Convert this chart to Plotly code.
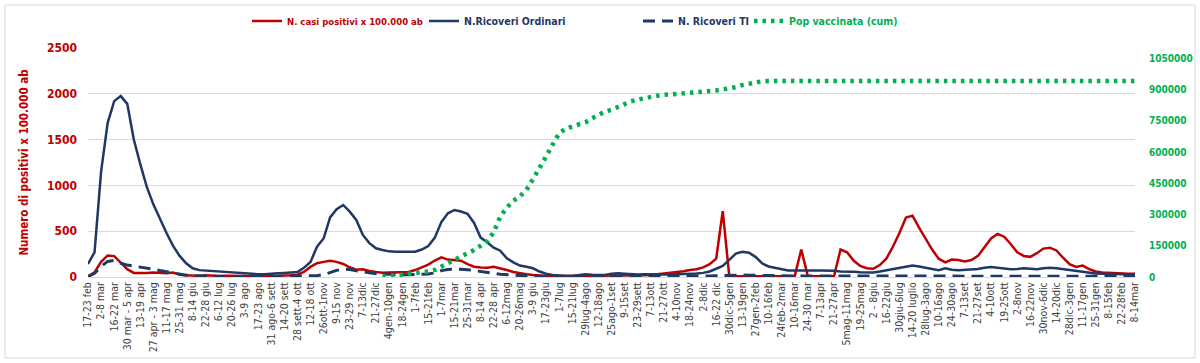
import plotly.graph_objects as go

# ---------------- data ----------------
tick_labels = [
    "17-23 feb", "2-8 mar", "16-22 mar", "30 mar - 5 apr", "13-19 apr", "27 apr - 3 mag",
    "11-17 mag", "25-31 mag", "8-14 giu", "22-28 giu", "6-12 lug", "20-26 lug", "3-9 ago",
    "17-23 ago", "31 ago-6 sett", "14-20 sett", "28 sett-4 ott", "12-18 ott", "26ott-1nov",
    "9-15 nov", "23-29 nov", "7-13dic", "21-27dic", "4gen-10gen", "18-24gen", "1-7feb",
    "15-21feb", "1-7mar", "15-21mar", "25-31mar", "8-14 apr", "22-28 apr", "6-12mag",
    "20-26mag", "3-9 giu", "17-23giu", "1-7lug", "15-21lug", "29lug-4ago", "12-18ago",
    "25ago-1set", "9-15set", "23-29sett", "7-13ott", "21-27ott", "4-10nov", "18-24nov",
    "2-8dic", "16-22 dic", "30dic-5gen", "13-19gen", "27gen-2feb", "10-16feb", "24feb-2mar",
    "10-16mar", "24-30 mar", "7-13apr", "21-27apr", "5mag-11mag", "19-25mag", "2 - 8giu",
    "16-22giu", "30giu-6lug", "14-20 luglio", "28lug-3ago", "10-16ago", "24-30ago", "7-13set",
    "21-27set", "4-10ott", "19-25ott", "2-8nov", "16-22nov", "30nov-6dic", "14-20dic",
    "28dic-3gen", "11-17gen", "25-31gen", "8-15feb", "22-28feb", "8-14mar",
]

# weekly values (161 weeks, one label every two weeks)
casi_positivi = [
    5, 50, 165, 235, 228, 155, 85, 45, 42, 45,
    48, 45, 40, 48, 25, 20, 15, 12, 18, 14,
    12, 15, 12, 10, 12, 10, 12, 10, 12, 15,
    15, 20, 25, 55, 110, 150, 165, 178, 165, 142,
    106, 80, 84, 65, 55, 47, 50, 52, 51, 55,
    76, 105, 135, 180, 215, 190, 182, 178, 140, 112,
    105, 100, 112, 90, 76, 55, 40, 30, 22, 15,
    11, 10, 10, 12, 14, 15, 14, 12, 12, 14,
    12, 12, 14, 12, 14, 18, 22, 30, 38, 45,
    51, 62, 76, 85, 105, 140, 200, 720, 10, 8,
    8, 8, 9, 8, 8, 9, 8, 8, 10, 300,
    10, 8, 8, 9, 8, 300, 270, 180, 120, 95,
    90, 130, 200, 330, 480, 650, 670, 540, 420, 300,
    200, 160, 190, 185, 170, 185, 230, 320, 420, 470,
    440, 360, 270, 230, 220, 260, 310, 320, 290, 210,
    140, 110, 125, 85, 60, 50, 45, 40, 38, 35,
    35,
]

ricoveri_ordinari = [
    142, 270, 1150, 1680, 1920, 1975, 1890, 1500, 1230, 980,
    790, 630, 480, 340, 230, 150, 95, 75, 70, 62,
    55, 48, 42, 38, 35, 32, 30, 30, 32, 40,
    45, 48, 55, 100, 165, 330, 420, 650, 740, 786,
    713, 622, 459, 370, 313, 295, 280, 276, 278, 276,
    276, 300, 338, 430, 600, 695, 732, 715, 690, 590,
    430, 380, 320, 287, 204, 160, 125, 112, 95, 60,
    35, 22, 15, 12, 11, 20, 30, 25, 20, 22,
    35, 40, 35, 30, 28, 30, 32, 30, 28, 28,
    30, 30, 32, 38, 45, 60, 90, 120, 186, 255,
    276, 265, 220, 150, 115, 100, 80, 72, 70, 72,
    75, 72, 70, 70, 68, 60, 62, 58, 52, 48,
    50, 60, 72, 85, 95, 110, 125, 115, 100, 85,
    75, 95, 80, 75, 78, 82, 88, 100, 108, 100,
    90, 85, 88, 95, 90, 85, 95, 100, 95, 85,
    75, 62, 50, 42, 38, 35, 32, 30, 28, 27,
    26,
]

ricoveri_ti = [
    5, 40, 115, 170, 180, 150, 130, 120, 110, 95,
    85, 70, 58, 45, 30, 20, 15, 12, 10, 8,
    7, 6, 6, 5, 5, 5, 5, 5, 6, 6,
    7, 7, 8, 8, 10, 15, 25, 50, 72, 87,
    82, 68, 55, 42, 35, 32, 28, 26, 25, 25,
    25, 27, 32, 45, 70, 83, 87, 85, 80, 68,
    60, 50, 40, 30, 24, 18, 14, 10, 8, 7,
    6, 6, 6, 6, 6, 6, 6, 6, 6, 6,
    6, 7, 7, 7, 7, 7, 7, 7, 7, 7,
    7, 7, 7, 8, 10, 12, 15, 18, 20, 22,
    22, 20, 18, 15, 12, 11, 10, 10, 10, 10,
    10, 10, 10, 10, 10, 10, 10, 10, 10, 10,
    10, 10, 10, 11, 12, 12, 13, 12, 11, 10,
    10, 10, 10, 10, 10, 10, 10, 11, 11, 11,
    11, 10, 10, 10, 10, 10, 10, 10, 10, 10,
    10, 9, 9, 9, 9, 9, 9, 9, 9, 9,
    9,
]

pop_vaccinata = [None] * 45 + [
    2000, 4000, 6000, 11000, 16000,
    19000, 19000, 26000, 34000, 50000, 68000, 82000, 94000, 115000, 130000,
    150000, 172000, 215000, 290000, 333000, 366000, 388000, 418000, 470000, 520000,
    578000, 636000, 690000, 713000, 723000, 731000, 743000, 762000, 780000, 795000,
    803000, 818000, 833000, 844000, 852000, 860000, 866000, 871000, 875000, 876000,
    878000, 882000, 885000, 887000, 889000, 891000, 896000, 901000, 906000, 912000,
    922000, 928000, 935000, 940000, 941000, 941000, 941000, 942000, 942000, 942000,
    942000, 942000, 942000, 942000, 942000, 942000, 942000, 942000, 942000, 942000,
    942000, 942000, 942000, 942000, 942000, 942000, 942000, 942000, 942000, 942000,
    942000, 942000, 942000, 942000, 942000, 942000, 942000, 942000, 942000, 942000,
    942000, 942000, 942000, 942000, 942000, 942000, 942000, 942000, 942000, 942000,
    942000, 942000, 942000, 942000, 942000, 942000, 942000, 942000, 942000, 942000,
    942000,
]

weeks = list(range(len(casi_positivi)))

# ---------------- style ----------------
RED = "#C00000"
NAVY = "#1F3864"
GREEN = "#00B050"
GRID = "#D9D9D9"
FONT = "Liberation Sans Narrow, DejaVu Sans Condensed, Roboto Condensed, Arial Narrow, sans-serif"

W, H = 1200, 363
ML, MR, MT, MB = 88, 65, 48, 86
PW, PH = W - ML - MR, H - MT - MB

def px_x(p):
    return (p - ML) / PW

def px_y(p):
    return (H - MB - p) / PH

fig = go.Figure()
fig.add_trace(go.Scatter(
    x=weeks, y=casi_positivi, mode="lines", legend="legend",
    name='<span style="color:%s"><b>N. casi positivi x 100.000 ab</b></span>' % RED,
    line=dict(color=RED, width=2.5)))
fig.add_trace(go.Scatter(
    x=weeks, y=ricoveri_ordinari, mode="lines", legend="legend2",
    name='<span style="color:%s"><b>N.Ricoveri Ordinari</b></span>' % NAVY,
    line=dict(color=NAVY, width=2.5)))
fig.add_trace(go.Scatter(
    x=weeks, y=ricoveri_ti, mode="lines", legend="legend3",
    name='<span style="color:%s"><b>N. Ricoveri TI</b></span>' % NAVY,
    line=dict(color=NAVY, width=3, dash="12px,7px")))
fig.add_trace(go.Scatter(
    x=weeks, y=pop_vaccinata, mode="lines", yaxis="y2", legend="legend4",
    name='<span style="color:%s"><b>Pop vaccinata (cum)</b></span>' % GREEN,
    line=dict(color=GREEN, width=4.5, dash="3.5px,5px")))

def leg(px_left, size=10.5):
    return dict(orientation="h", x=px_x(px_left), xanchor="left", y=px_y(21), yanchor="middle",
                font=dict(size=size, family=FONT), itemwidth=30, bgcolor="rgba(0,0,0,0)")

fig.update_layout(
    width=W, height=H,
    margin=dict(l=ML, r=MR, t=MT, b=MB, autoexpand=False),
    paper_bgcolor="white", plot_bgcolor="white",
    font=dict(family=FONT, size=11, color="#404040"),
    showlegend=True,
    legend=leg(247, 9.5), legend2=leg(424), legend3=leg(638), legend4=leg(749),
    xaxis=dict(range=[0, len(weeks) - 1], tickmode="array",
               tickvals=weeks[::2], ticktext=tick_labels, tickangle=-90,
               tickfont=dict(size=10.5, color="#404040", family=FONT),
               showgrid=False, zeroline=False, showline=True, linecolor=GRID,
               ticks="", automargin=False),
    yaxis=dict(range=[0, 2500], dtick=500, tick0=0, gridcolor=GRID, gridwidth=1,
               zeroline=False, showline=False, automargin=False,
               tickfont=dict(size=12, color=RED, family=FONT, weight="bold"),
               ticklabelstandoff=10,
               title=dict(text="<b>Numero di positivi x 100.000 ab</b>",
                          font=dict(size=11.5, color=RED, family=FONT), standoff=15)),
    yaxis2=dict(overlaying="y", side="right", range=[0, 1100000],
                tickmode="array", tickvals=[0, 150000, 300000, 450000, 600000, 750000, 900000, 1050000],
                tickformat="d", showgrid=False, zeroline=False, showline=False, automargin=False,
                tickfont=dict(size=10, color=GREEN, family=FONT, weight="bold"),
                ticklabelstandoff=13),
    shapes=[dict(type="rect", xref="paper", yref="paper",
                 x0=px_x(5), x1=px_x(1195), y0=px_y(358), y1=px_y(5),
                 line=dict(color=GRID, width=1), fillcolor="rgba(0,0,0,0)", layer="below")],
)

fig.write_html("out.html", config={"displayModeBar": False},
               post_script="document.body.style.margin='0';document.body.style.overflow='hidden';")
